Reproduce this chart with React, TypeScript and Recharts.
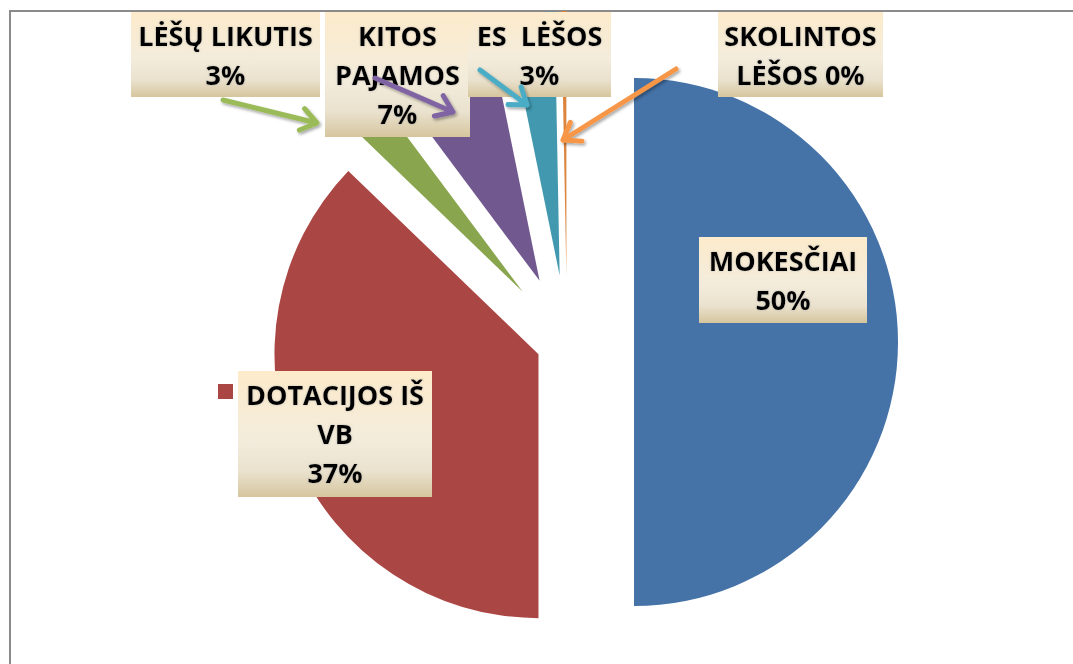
import React from "react";
import { PieChart, Pie, Cell } from "recharts";

// ---- data ----
const categories = [
  "MOKESČIAI",
  "DOTACIJOS IŠ VB",
  "LĖŠŲ LIKUTIS",
  "KITOS PAJAMOS",
  "ES  LĖŠOS",
  "SKOLINTOS LĖŠOS",
];
const shares = [50.0, 37.2, 2.6, 7.0, 2.9, 0.3];
const labelLines = [
  ["MOKESČIAI"],
  ["DOTACIJOS IŠ", "VB"],
  ["LĖŠŲ LIKUTIS"],
  ["KITOS", "PAJAMOS"],
  ["ES  LĖŠOS"],
  ["SKOLINTOS", "LĖŠOS"],
];

// ---- styles / layout ----
const sliceColors = ["#4572A7", "#AA4643", "#89A54E", "#71588F", "#4198AF", "#DB843D"];
const arrowColors = ["", "", "#9BBB59", "#8064A2", "#4BACC6", "#F79646"];
const explode = [67, 31, 67, 67, 67, 67];
const BASE_X = 567;
const BASE_Y = 342;
const R = 264;
const FONT = "'Open Sans', 'Noto Sans', sans-serif";

type Box = {
  x: number; y: number; w: number; h: number;
  key?: boolean; inline?: boolean; arrow?: number[];
};
const boxes: Box[] = [
  { x: 699, y: 237, w: 168, h: 86 },
  { x: 238, y: 371, w: 194, h: 126, key: true },
  { x: 131, y: 12, w: 189, h: 85, arrow: [223, 100, 317, 123] },
  { x: 325, y: 12, w: 145, h: 125, arrow: [375, 78, 453, 112] },
  { x: 468, y: 12, w: 143, h: 85, arrow: [480, 70, 527, 105] },
  { x: 718, y: 12, w: 165, h: 85, inline: true, arrow: [676, 69, 563, 140] },
];

const data = categories.map((name, i) => ({ name, value: shares[i] }));
const total = shares.reduce((a, b) => a + b, 0);

function offsetFor(i: number) {
  const before = shares.slice(0, i).reduce((a, b) => a + b, 0);
  const mid = ((before + shares[i] / 2) / total) * 2 * Math.PI;
  return { dx: explode[i] * Math.sin(mid), dy: -explode[i] * Math.cos(mid) };
}

function renderLabel(props: any) {
  const i: number = props.index;
  const b = boxes[i];
  const pct = Math.round((shares[i] / total) * 100) + "%";
  const names = labelLines[i];
  const lines = b.inline
    ? [...names.slice(0, -1), names[names.length - 1] + " " + pct]
    : [...names, pct];
  let arrow: React.ReactNode = null;
  if (b.arrow) {
    const [x1, y1, x2, y2] = b.arrow;
    const ang = Math.atan2(y2 - y1, x2 - x1);
    const L = 19;
    const sp = 0.62;
    const hx1 = x2 - L * Math.cos(ang - sp);
    const hy1 = y2 - L * Math.sin(ang - sp);
    const hx2 = x2 - L * Math.cos(ang + sp);
    const hy2 = y2 - L * Math.sin(ang + sp);
    arrow = (
      <path
        d={`M${x1},${y1}L${x2},${y2}M${hx1},${hy1}L${x2},${y2}L${hx2},${hy2}`}
        stroke={arrowColors[i]}
        strokeWidth={5}
        fill="none"
        strokeLinecap="round"
        strokeLinejoin="round"
        filter="url(#arrowShadow)"
      />
    );
  }
  return (
    <g key={`lbl-${i}`}>
      <rect x={b.x} y={b.y} width={b.w} height={b.h} fill="url(#boxGrad)" />
      {b.key && (
        <rect x={b.x - 20} y={b.y + 13} width={15} height={15} fill={sliceColors[i]} />
      )}
      {lines.map((t, k) => (
        <text
          key={k}
          x={b.x + b.w / 2}
          y={b.y + 34 + k * 39}
          textAnchor="middle"
          fontFamily={FONT}
          fontWeight={700}
          fontSize={27}
          fill="#000"
          xmlSpace="preserve"
          style={{ whiteSpace: "pre" }}
          filter="url(#textGlow)"
        >
          {t}
        </text>
      ))}
      {arrow}
    </g>
  );
}

export default function App() {
  return (
    <div
      style={{
        position: "absolute",
        left: 0,
        top: 0,
        width: 1073,
        height: 664,
        overflow: "hidden",
        background: "#fff",
      }}
    >
      <svg width={0} height={0} style={{ position: "absolute" }}>
        <defs>
          <linearGradient id="boxGrad" x1="0" y1="0" x2="0" y2="1">
            <stop offset="0%" stopColor="#FDEBCB" />
            <stop offset="55%" stopColor="#F3ECDC" />
            <stop offset="80%" stopColor="#EAE2CE" />
            <stop offset="100%" stopColor="#D6C59E" />
          </linearGradient>
          <filter id="arrowShadow" x="-20%" y="-20%" width="140%" height="160%">
            <feDropShadow dx="1.5" dy="2" stdDeviation="1.5" floodColor="#000" floodOpacity="0.35" />
          </filter>
          <filter id="textGlow" x="-10%" y="-30%" width="120%" height="160%">
            <feDropShadow dx="0" dy="0" stdDeviation="1" floodColor="#888" floodOpacity="0.5" />
          </filter>
        </defs>
      </svg>
      <div
        style={{
          position: "absolute",
          left: 9,
          top: 10,
          width: 1200,
          height: 800,
          borderTop: "2px solid #8a8a8a",
          borderLeft: "2px solid #8a8a8a",
        }}
      />
      <div style={{ position: "absolute", left: 0, top: 0 }}>
        <PieChart width={1073} height={664} margin={{ top: 0, right: 0, bottom: 0, left: 0 }}>
          {categories.map((_, i) => {
            const { dx, dy } = offsetFor(i);
            return (
              <Pie
                key={`pie-${i}`}
                data={data}
                dataKey="value"
                nameKey="name"
                cx={BASE_X + dx}
                cy={BASE_Y + dy}
                outerRadius={R}
                innerRadius={0}
                startAngle={90}
                endAngle={-270}
                stroke="none"
                isAnimationActive={false}
                label={false}
                labelLine={false}
              >
                {data.map((d, k) => (
                  <Cell key={k} fill={k === i ? sliceColors[i] : "none"} stroke="none" />
                ))}
              </Pie>
            );
          })}
          <Pie
            key="labels"
            data={data}
            dataKey="value"
            nameKey="name"
            cx={BASE_X}
            cy={BASE_Y}
            outerRadius={R}
            startAngle={90}
            endAngle={-270}
            stroke="none"
            isAnimationActive={false}
            label={renderLabel}
            labelLine={false}
          >
            {data.map((d, k) => (
              <Cell key={k} fill="none" stroke="none" />
            ))}
          </Pie>
        </PieChart>
      </div>
    </div>
  );
}
